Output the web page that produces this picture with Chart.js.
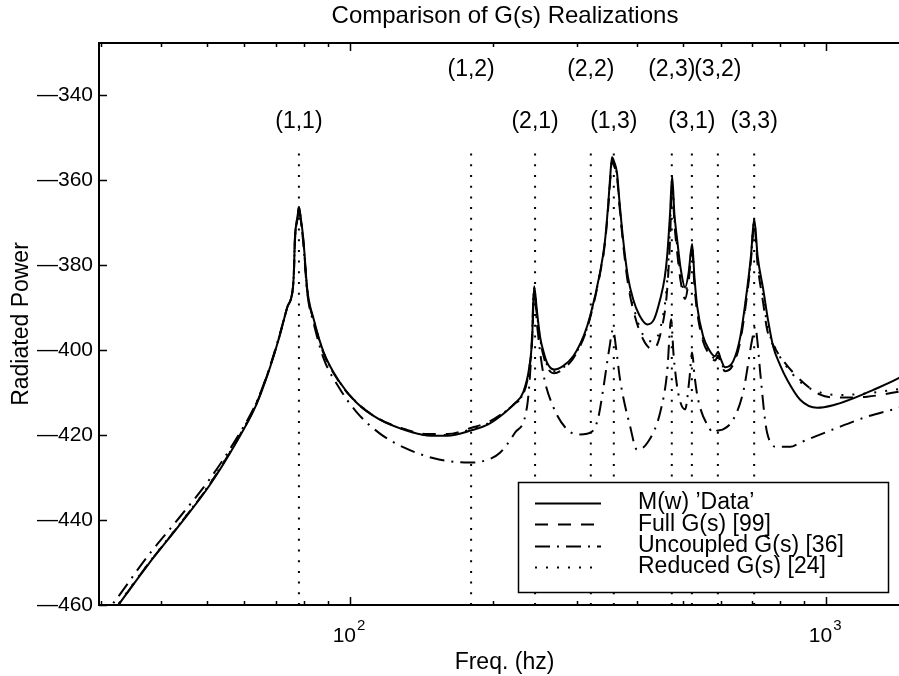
<!DOCTYPE html>
<html>
<head>
<meta charset="utf-8">
<script src="https://cdn.jsdelivr.net/npm/chart.js@4"></script>
<style>
  html, body { margin: 0; padding: 0; background: #fff; overflow: hidden; }
  /* the original figure is cropped on the right, so the canvas runs past the window */
  #wrap { width: 1010px; height: 676px; position: relative; }
</style>
</head>
<body>
<div id="wrap"><canvas id="chart_gsRealizations"></canvas></div>
<script>
// frequency (hz), radiated power
var measured = [
  [29.7,-466],[32.6,-460],[37.6,-450.6],[43.9,-441.1],[50.8,-431.7],[58.2,-421],[63.5,-413],[67.5,-405],
  [71,-397],[73.8,-390],[75.8,-385.7],[76.2,-382],[76.6,-374],[77.6,-368.5],[78.1,-366.4],[78.7,-368.5],[79.8,-374],
  [81.3,-385.7],[84,-393],[88,-400.5],[95,-407.5],[103,-412.3],[115,-416.3],[130,-418.8],[145,-420.1],
  [160,-420.2],[180,-418.9],[195,-417.5],[210,-415],[222,-412.5],[231,-410],[238,-404],[241.2,-397.5],
  [243.6,-385],[247,-391],[250.6,-396.8],[255,-400.5],[259.3,-403],[268.3,-404.6],[280,-403.8],[294.2,-401.5],
  [310,-396.5],[319.3,-392.1],[335.1,-381.7],[343,-374.5],[348.3,-366.2],[352,-359],[355.1,-354.6],[358,-355.5],
  [363.8,-358.5],[368,-365],[374.6,-374],[383,-382.5],[393.2,-388.1],[405,-391.8],[420.7,-394],[435,-392.8],
  [448.1,-388.1],[458,-383],[463.4,-378],[470,-368],[474.8,-359.1],[480,-368],[486.4,-374],[495,-381],
  [505.5,-385.3],[514,-382],[523,-375.1],[529,-383],[535.8,-389.7],[551.6,-396.8],[568,-400],[584.6,-401.5],
  [593.1,-400.4],[600,-402],[613.5,-404.1],[637.7,-402.7],[660,-397],[682.3,-385.7],[695,-378],[706.1,-369.2],
  [718,-378],[737.5,-385.7],[755,-393],[773.9,-399.2],[800,-403.5],[828,-407],[881.9,-411.7],[957.5,-413.6],
  [1034,-413],[1122,-411.7],[1250,-409.5],[1423,-406.6],[1500,-405]
];
var fullModel = [
  [29.7,-466],[32.6,-460],[37.6,-450.5],[43.9,-441],[50.8,-431.5],[58.2,-420.8],[63.5,-412.8],[67.5,-404.9],
  [71,-397],[73.8,-390],[75.8,-385.8],[76.2,-382.3],[76.6,-374.5],[77.6,-369],[78.1,-366.8],[78.7,-369],[79.8,-374.5],
  [81.3,-386],[84,-393.3],[88,-400.8],[95,-407.6],[103,-412.3],[115,-416.2],[130,-418.6],[145,-419.8],
  [160,-419.8],[180,-418.3],[195,-417],[210,-414.8],[222,-412.6],[231,-410.5],[238,-404.5],[241.2,-398],
  [243.6,-386],[247,-392],[250.6,-397.5],[255,-401.5],[259.3,-404],[268.3,-405.5],[280,-404.5],[294.2,-402],
  [310,-397],[319.3,-392.5],[335.1,-382],[343,-375],[348.3,-367],[352,-360],[355.1,-355.5],[358,-356.5],
  [363.8,-359.5],[368,-366],[374.6,-375],[383,-384],[393.2,-390.5],[412.6,-397.5],[433,-399.9],[452.4,-394.5],
  [463.4,-386],[470,-374],[474.8,-361],[480,-370],[486.4,-377],[495,-384],[505.5,-388],[514,-384],
  [523,-377],[529,-385],[535.8,-391],[551.6,-398],[568,-401],[584.6,-402.5],[593.1,-401.3],[600,-403],
  [613.5,-405],[637.7,-403.5],[660,-398],[682.3,-387],[695,-379],[706.1,-370.5],[718,-380],[737.5,-389],
  [751.6,-395.2],[780,-399.5],[812.5,-402.5],[881.9,-407],[971,-410.5],[1068,-411.2],[1219,-411],[1423,-409.8],
  [1500,-409.3]
];
var uncoupledModel = [
  [29.7,-463.5],[31.6,-460],[37.6,-448.5],[43.9,-439.3],[50.8,-430.3],[58.2,-420.2],[63.5,-412.5],[67.5,-404.7],
  [71,-396.8],[73.8,-390],[75.8,-385.6],[76.2,-382],[76.6,-374],[77.6,-368.5],[78.1,-366.4],[78.7,-368.8],[79.8,-375],
  [81.3,-386.5],[84,-394],[88,-402],[95,-409],[103,-414.5],[115,-419.5],[130,-423],[150,-425.5],
  [165,-426.3],[179,-426.5],[195,-425.8],[206.5,-424.2],[222,-419.5],[235.4,-413.3],[240,-402],[243.6,-386],
  [247,-394],[254.4,-405.3],[267,-413.3],[285.7,-418.7],[304.2,-419.9],[322.4,-419.2],[332,-416],[340.1,-409.3],
  [350,-400],[356.8,-395.2],[362,-399.5],[369.1,-407],[387.5,-418],[400.8,-423.5],[422.7,-421.6],[448.1,-414.7],
  [463.4,-405.3],[472.5,-392.8],[478,-401],[488.7,-410],[505.5,-414],[516,-407],[523,-400.6],[529,-406],
  [538.4,-411.7],[570.6,-418.7],[578.9,-419.5],[590,-419],[607.5,-418.7],[637.7,-416.4],[669.2,-410],[699.3,-397.5],
  [709.5,-394.5],[718,-398.5],[726.9,-405.3],[751.6,-419.5],[788.8,-422.8],[840.3,-422.8],[881.9,-421.8],[1034,-418.7],
  [1219,-415.7],[1423,-413.6],[1500,-412.8]
];
var reducedModel = [
  [29.7,-465.8],[32.6,-459.8],[37.6,-450.4],[43.9,-440.9],[50.8,-431.4],[58.2,-420.7],[63.5,-412.7],[67.5,-404.8],
  [71,-397],[73.8,-390],[75.8,-385.7],[76.2,-382.1],[76.6,-374.3],[77.6,-368.8],[78.1,-366.6],[78.7,-368.8],[79.8,-374.3],
  [81.3,-385.8],[84,-393.1],[88,-400.6],[95,-407.5],[103,-412.2],[115,-416.2],[130,-418.7],[145,-420],
  [160,-420],[180,-418.6],[195,-417.3],[210,-414.9],[222,-412.5],[231,-410.2],[238,-404.2],[241.2,-397.7],
  [243.6,-385.5],[247,-391.5],[250.6,-397.2],[255,-401],[259.3,-403.5],[268.3,-405],[280,-404.2],[294.2,-401.8],
  [310,-396.8],[319.3,-392.3],[335.1,-381.8],[343,-374.8],[348.3,-366.6],[352,-359.5],[355.1,-355],[358,-356],
  [363.8,-359],[368,-365.5],[374.6,-374.5],[383,-383.3],[393.2,-389.5],[412.6,-396.5],[433,-398],[452.4,-393],
  [463.4,-384],[470,-371],[474.8,-360],[480,-369],[486.4,-375.5],[495,-382.5],[505.5,-386.5],[514,-383],
  [523,-376],[529,-384],[535.8,-390.3],[551.6,-397.4],[568,-400.5],[584.6,-402],[593.1,-400.8],[600,-402.5],
  [613.5,-404.5],[637.7,-403],[660,-397.5],[682.3,-386.3],[695,-378.5],[706.1,-369.8],[718,-379],[737.5,-387.5],
  [751.6,-394],[780,-399.3],[812.5,-402.8],[881.9,-407.5],[971,-410],[1068,-410.6],[1219,-410.2],[1423,-409.2],
  [1500,-408.8]
];

var modeFreqs  = [78.1, 179.6, 244.7, 320.4, 358.1, 474, 522.3, 592.3, 706];
var modeLabels = ['(1,1)', '(1,2)', '(2,1)', '(2,2)', '(1,3)', '(2,3)', '(3,1)', '(3,2)', '(3,3)'];
var modeRow    = [1, 0, 1, 0, 1, 0, 1, 0, 1];
var modeTop    = -352.7;

var yTicks = [-460, -440, -420, -400, -380, -360, -340];
var xTicks = [30, 40, 50, 60, 70, 80, 90, 100, 200, 300, 400, 500, 600, 700, 800, 900, 1000];
var xLabelTicks = [100, 1000];

var FONT = "'Liberation Sans', Arial, Helvetica, sans-serif";
Chart.defaults.font.family = FONT;
Chart.defaults.color = '#000';

function toPoints(rows) {
  return rows.map(function (r) { return {x: r[0], y: r[1]}; });
}

var modePoints = [];
modeFreqs.forEach(function (f) {
  modePoints.push({x: f, y: -460}, {x: f, y: modeTop}, {x: f, y: null});
});

function curve(label, rows, dash) {
  return {
    label: label,
    data: toPoints(rows),
    showLine: true,
    borderColor: '#000',
    borderWidth: 2,
    borderDash: dash,
    pointRadius: 0,
    cubicInterpolationMode: 'monotone',
    inLegend: true
  };
}

var framePlugin = {
  id: 'frame',
  afterDatasetsDraw: function (chart) {
    var ctx = chart.ctx, a = chart.chartArea, x = chart.scales.x, y = chart.scales.y;
    ctx.save();
    ctx.strokeStyle = '#000';
    ctx.fillStyle = '#000';
    ctx.setLineDash([]);

    // axes box
    ctx.lineWidth = 2;
    ctx.beginPath();
    ctx.moveTo(a.right, a.top); ctx.lineTo(a.left, a.top);
    ctx.lineTo(a.left, a.bottom); ctx.lineTo(a.right, a.bottom);
    ctx.lineTo(a.right, a.top);
    ctx.stroke();

    // inward ticks
    ctx.lineWidth = 1.5;
    ctx.beginPath();
    xTicks.forEach(function (v) {
      var px = Math.round(x.getPixelForValue(v)) + 0.5;
      if (px <= a.left + 2) return;
      var len = xLabelTicks.indexOf(v) >= 0 ? 8 : 4;
      ctx.moveTo(px, a.bottom); ctx.lineTo(px, a.bottom - len);
      ctx.moveTo(px, a.top); ctx.lineTo(px, a.top + len);
    });
    yTicks.forEach(function (v) {
      var py = Math.round(y.getPixelForValue(v)) + 0.5;
      ctx.moveTo(a.left, py); ctx.lineTo(a.left + 8, py);
      ctx.moveTo(a.right, py); ctx.lineTo(a.right - 8, py);
    });
    ctx.stroke();

    // 10^n labels
    xLabelTicks.forEach(function (v) {
      var px = x.getPixelForValue(v);
      ctx.textBaseline = 'alphabetic';
      ctx.font = '21px ' + FONT;
      ctx.textAlign = 'right';
      ctx.fillText('10', px + 6, 642);
      ctx.font = '15px ' + FONT;
      ctx.textAlign = 'left';
      ctx.fillText(String(Math.round(Math.log10(v))), px + 7, 630);
    });

    // mode labels
    ctx.font = '23px ' + FONT;
    ctx.textAlign = 'center';
    ctx.textBaseline = 'middle';
    modeFreqs.forEach(function (f, i) {
      var px = x.getPixelForValue(f);
      ctx.fillText(modeLabels[i], px, modeRow[i] ? 122 : 70);
    });

    // legend box
    var bx = 518, by = 482, bw = 370, bh = 110;
    ctx.fillStyle = '#fff';
    ctx.fillRect(bx, by, bw, bh);
    ctx.lineWidth = 1.5;
    ctx.strokeRect(bx + 0.5, by + 0.5, bw, bh);
    ctx.fillStyle = '#000';
    ctx.font = '23px ' + FONT;
    ctx.textAlign = 'left';
    ctx.textBaseline = 'middle';
    var rows = chart.data.datasets.filter(function (d) { return d.inLegend; });
    rows.forEach(function (d, i) {
      var ry = 503 + i * 21.3;
      ctx.lineWidth = 2;
      ctx.setLineDash(d.borderDash || []);
      ctx.beginPath();
      ctx.moveTo(535, Math.round(ry) + 0.5); ctx.lineTo(601, Math.round(ry) + 0.5);
      ctx.stroke();
      ctx.setLineDash([]);
      ctx.fillText(d.label, 638, ry);
    });
    ctx.restore();
  }
};

var chart_gsRealizations = new Chart(document.getElementById('chart_gsRealizations'), {
  type: 'scatter',
  data: {
    datasets: [
      curve("M(w) \u2019Data\u2019", measured, []),
      curve('Full G(s) [99]', fullModel, [13, 10]),
      curve('Uncoupled G(s) [36]', uncoupledModel, [15, 7, 2, 7]),
      curve('Reduced G(s) [24]', reducedModel, [2, 9]),
      {
        label: 'modes',
        data: modePoints,
        showLine: true,
        spanGaps: false,
        borderColor: '#000',
        borderWidth: 2,
        borderDash: [2, 8.7],
        pointRadius: 0
      }
    ]
  },
  options: {
    animation: false,
    responsive: true,
    maintainAspectRatio: false,
    layout: { padding: 0 },
    plugins: {
      legend: { display: false },
      tooltip: { enabled: false },
      title: {
        display: true,
        text: 'Comparison of G(s) Realizations',
        font: { size: 24, weight: 'normal' },
        padding: { top: 2, bottom: 12.2 },
        color: '#000'
      }
    },
    scales: {
      x: {
        type: 'logarithmic',
        min: 29.7,
        max: 1500,
        grid: { display: false, drawTicks: false },
        border: { display: false },
        ticks: { display: false },
        title: {
          display: true,
          text: 'Freq. (hz)',
          font: { size: 23 },
          padding: { top: 0, bottom: 0 }
        },
        afterFit: function (scale) { scale.height = 71; }
      },
      y: {
        type: 'linear',
        min: -460,
        max: -327.8,
        grid: { display: false, drawTicks: false },
        border: { display: false },
        afterBuildTicks: function (scale) {
          scale.ticks = yTicks.map(function (v) { return {value: v}; });
        },
        ticks: {
          padding: 6,
          font: { size: 21 },
          callback: function (value) { return '\u2014' + Math.abs(value); }
        },
        title: {
          display: true,
          text: 'Radiated Power',
          font: { size: 23 },
          padding: { top: 8.2, bottom: 0 }
        },
        afterFit: function (scale) { scale.width = 99; }
      },
      // empty right-hand strip: the part of the figure that lies past the crop
      yRight: {
        type: 'linear',
        position: 'right',
        min: -460,
        max: -327.8,
        grid: { display: false, drawTicks: false },
        border: { display: false },
        ticks: { display: false },
        afterFit: function (scale) { scale.width = 100; }
      }
    }
  },
  plugins: [framePlugin]
});
</script>
</body>
</html>
